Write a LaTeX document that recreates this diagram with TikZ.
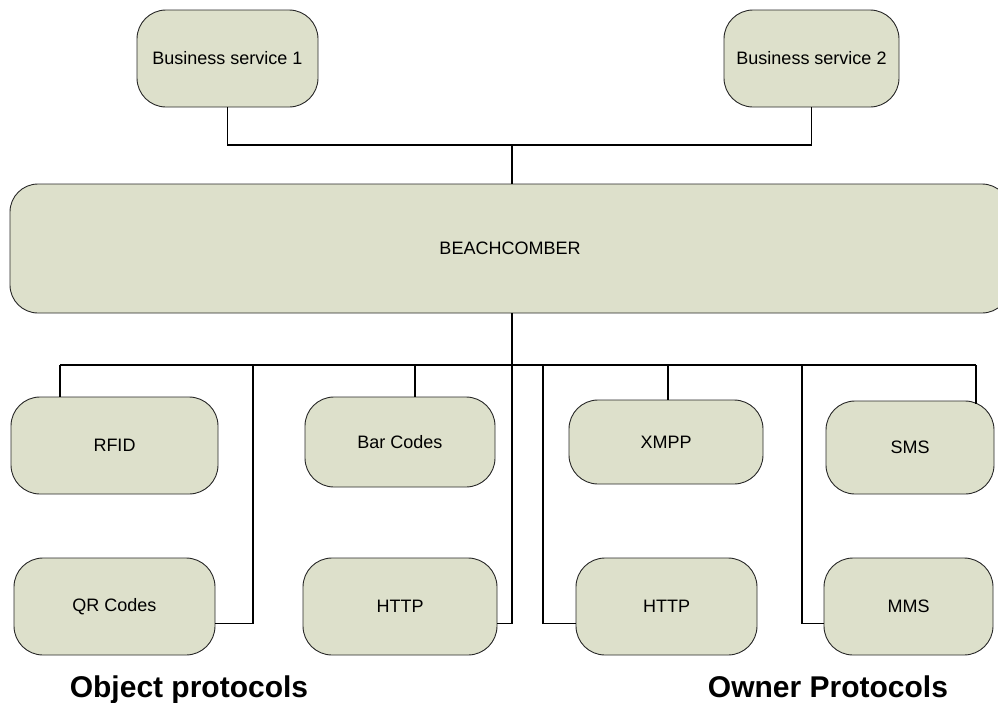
\documentclass[tikz,border=0pt]{standalone}
\usepackage{fontspec}
\setmainfont{Liberation Sans}
\definecolor{boxfill}{RGB}{221,224,203}
\definecolor{boxline}{RGB}{40,40,40}
\begin{document}
\begin{tikzpicture}[x=1pt,y=-1pt,
  pbox/.style={draw=boxline, line width=0.9pt, fill=boxfill, rounded corners=29pt,
    inner sep=0pt, font=\fontsize{18}{21}\selectfont},
  wire/.style={draw=black, line width=1.4pt},
  caption/.style={anchor=base, inner sep=0pt, font=\fontsize{30}{34}\selectfont\bfseries}]
\clip (0,0) rectangle (998,702);
\fill[white] (0,0) rectangle (998,702);

% services on top
\node[pbox, minimum width=181pt, minimum height=97pt] (bs1) at (227.5,58.5) {Business service 1};
\node[pbox, minimum width=175pt, minimum height=97pt] (bs2) at (811.5,58.5) {Business service 2};

% central platform
\node[pbox, rounded corners=28pt, minimum width=1000pt, minimum height=129pt] (beach) at (510,248.5) {BEACHCOMBER};

% object protocols
\node[pbox, minimum width=207pt, minimum height=97pt] (rfid) at (114.5,445.5) {RFID};
\node[pbox, minimum width=190pt, minimum height=90pt] (bar) at (400,442) {Bar Codes};
\node[pbox, minimum width=201pt, minimum height=97pt] (qr) at (114.5,606.5) {QR Codes};
\node[pbox, minimum width=194pt, minimum height=97pt] (http1) at (400,606.5) {HTTP};

% owner protocols
\node[pbox, minimum width=194pt, minimum height=84pt] (xmpp) at (666,442) {XMPP};
\node[pbox, minimum width=168pt, minimum height=93pt] (sms) at (910,447.5) {SMS};
\node[pbox, minimum width=181pt, minimum height=97pt] (http2) at (666.5,606.5) {HTTP};
\node[pbox, minimum width=169pt, minimum height=97pt] (mms) at (908.5,606.5) {MMS};

% group captions
\node[caption] (objcap) at (189,697) {Object protocols};
\node[caption] (owncap) at (828,697) {Owner Protocols};

% upper bus
\coordinate (topbus) at (512,145);
\draw[wire] (bs1.south) |- (topbus) -| (bs2.south);
\draw[wire] (topbus) -- (topbus |- beach.north);

% lower bus
\coordinate (busL) at (60,365);
\coordinate (busR) at (976,365);
\coordinate (tapQR) at (253,365);
\coordinate (tapBar) at (415,365);
\coordinate (tapMid) at (512,365);
\coordinate (tapHttp) at (543,365);
\coordinate (tapXmpp) at (668,365);
\coordinate (tapMms) at (802,365);
\draw[wire] (busL) -- (busR);
\draw[wire] (busL) -- (busL |- rfid.north);
\draw[wire] (tapQR) |- ([yshift=-17pt]qr.east);
\draw[wire] (tapBar) -- (tapBar |- bar.north);
\draw[wire] (tapMid |- beach.south) |- ([yshift=-17pt]http1.east);
\draw[wire] (tapHttp) |- ([yshift=-17pt]http2.west);
\draw[wire] (tapXmpp) -- (tapXmpp |- xmpp.north);
\draw[wire] (tapMms) |- ([yshift=-17pt]mms.west);
\draw[wire] (busR) -- ([yshift=-3pt]busR |- sms.north);
\end{tikzpicture}
\end{document}
